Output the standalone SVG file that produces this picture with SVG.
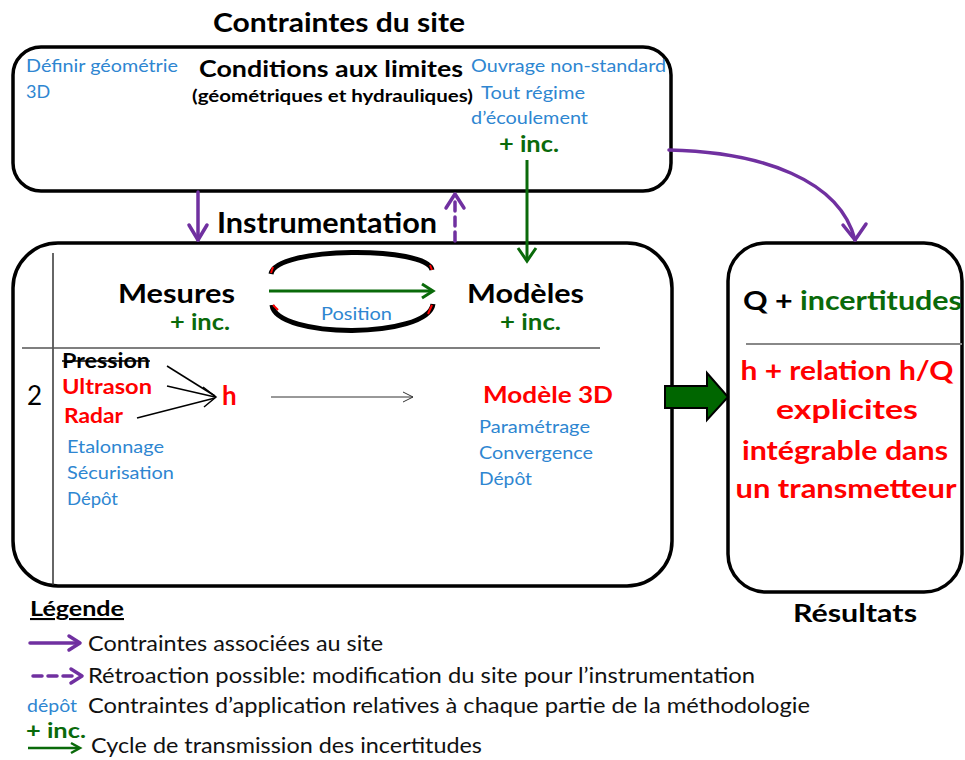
<svg xmlns="http://www.w3.org/2000/svg" width="965" height="760" viewBox="0 0 965 760">
<style>
text{font-family:Lato,"Open Sans","Liberation Sans",sans-serif;}
.b{font-weight:bold;}
.blue{fill:#2E86D1;font-size:18px;}
.grn{fill:#0A6A0A;font-weight:bold;}
.red{fill:#FF0000;font-weight:bold;}
.box{fill:#fff;stroke:#000;stroke-width:3.5;}
.pur{stroke:#7030A0;stroke-width:3.5;fill:none;stroke-linecap:round;stroke-linejoin:round;}
.leg{font-size:21px;fill:#111;}
</style>
<rect width="965" height="760" fill="#fff"/>
<text class="b" x="213" y="32" font-size="27" textLength="252" lengthAdjust="spacingAndGlyphs">Contraintes du site</text>

<g id="site">
<rect class="box" x="13" y="47" width="658" height="144" rx="28"/>
<text class="blue" x="26" y="72" textLength="152" lengthAdjust="spacingAndGlyphs">Définir géométrie</text>
<text class="blue" x="26" y="98">3D</text>
<text class="b" x="199" y="77" font-size="23" textLength="264" lengthAdjust="spacingAndGlyphs">Conditions aux limites</text>
<text class="b" x="192" y="102" font-size="17" textLength="281" lengthAdjust="spacingAndGlyphs">(géométriques et hydrauliques)</text>
<text class="blue" x="471" y="72" textLength="195" lengthAdjust="spacingAndGlyphs">Ouvrage non-standard</text>
<text class="blue" x="481" y="99" textLength="104" lengthAdjust="spacingAndGlyphs">Tout régime</text>
<text class="blue" x="471" y="124" textLength="117" lengthAdjust="spacingAndGlyphs">d’écoulement</text>
<text class="grn" x="499" y="152" font-size="23" textLength="60" lengthAdjust="spacingAndGlyphs">+ inc.</text>
</g>

<text class="b" x="217" y="233" font-size="28" textLength="220" lengthAdjust="spacingAndGlyphs">Instrumentation</text>

<g id="instrumentation">
<rect class="box" x="13" y="243" width="659" height="343" rx="45"/>
<line x1="53" y1="253" x2="53" y2="585" stroke="#333" stroke-width="1.5"/>
<line x1="22" y1="348" x2="600" y2="348" stroke="#555" stroke-width="1.5"/>
<text class="b" x="118" y="303" font-size="27" textLength="117" lengthAdjust="spacingAndGlyphs">Mesures</text>
<text class="grn" x="170" y="330" font-size="23" textLength="60" lengthAdjust="spacingAndGlyphs">+ inc.</text>
<text class="b" x="467" y="303" font-size="27" textLength="117" lengthAdjust="spacingAndGlyphs">Modèles</text>
<text class="grn" x="500" y="330" font-size="23" textLength="61" lengthAdjust="spacingAndGlyphs">+ inc.</text>
<text class="blue" x="321" y="320" textLength="71" lengthAdjust="spacingAndGlyphs">Position</text>
<text x="27" y="405" font-size="26" fill="#000">2</text>
<text class="b" x="62" y="368" font-size="21" textLength="88" lengthAdjust="spacingAndGlyphs">Pression</text>
<line x1="62" y1="361" x2="150" y2="361" stroke="#000" stroke-width="1.5"/>
<text class="red" x="62" y="394" font-size="21" textLength="90" lengthAdjust="spacingAndGlyphs">Ultrason</text>
<text class="red" x="64" y="423" font-size="21" textLength="59" lengthAdjust="spacingAndGlyphs">Radar</text>
<text class="red" x="222" y="405" font-size="26">h</text>
<text class="blue" x="67" y="453" textLength="97" lengthAdjust="spacingAndGlyphs">Etalonnage</text>
<text class="blue" x="67" y="479" textLength="107" lengthAdjust="spacingAndGlyphs">Sécurisation</text>
<text class="blue" x="67" y="505" textLength="51" lengthAdjust="spacingAndGlyphs">Dépôt</text>
<text class="red" x="483" y="403" font-size="23" textLength="130" lengthAdjust="spacingAndGlyphs">Modèle 3D</text>
<text class="blue" x="479" y="433" textLength="111" lengthAdjust="spacingAndGlyphs">Paramétrage</text>
<text class="blue" x="479" y="459" textLength="114" lengthAdjust="spacingAndGlyphs">Convergence</text>
<text class="blue" x="479" y="485" textLength="53" lengthAdjust="spacingAndGlyphs">Dépôt</text>
</g>

<g id="resultats">
<rect class="box" x="728" y="243" width="234" height="349" rx="38"/>
<text class="b" x="743" y="310" font-size="27" textLength="219" lengthAdjust="spacingAndGlyphs"><tspan fill="#000">Q + </tspan><tspan fill="#0A6A0A">incertitudes</tspan></text>
<line x1="746" y1="344" x2="962" y2="344" stroke="#888" stroke-width="2"/>
<g class="red" font-size="27" text-anchor="middle">
<text x="847" y="380" textLength="213" lengthAdjust="spacingAndGlyphs">h + relation h/Q</text>
<text x="847" y="419" textLength="142" lengthAdjust="spacingAndGlyphs">explicites</text>
<text x="845" y="460" textLength="206" lengthAdjust="spacingAndGlyphs">intégrable dans</text>
<text x="846" y="498" textLength="221" lengthAdjust="spacingAndGlyphs">un transmetteur</text>
</g>
<text class="b" x="855" y="622" font-size="24" text-anchor="middle" textLength="124" lengthAdjust="spacingAndGlyphs">Résultats</text>
</g>

<g id="connectors">
<line class="pur" x1="198" y1="192" x2="198" y2="240"/>
<polyline class="pur" points="189,225 198,240 207,225"/>
<line class="pur" x1="455" y1="241" x2="455" y2="196" stroke-dasharray="9,6"/>
<polyline class="pur" points="446,208 455,194 464,208"/>
<path class="pur" d="M669,150 C762,152 840,180 855,240"/>
<polyline class="pur" points="843,225 855,240 866,224"/>
<line x1="527" y1="160" x2="527" y2="260" stroke="#0A6A0A" stroke-width="3"/>
<polyline points="518,248 527,261 536,248" fill="none" stroke="#0A6A0A" stroke-width="3"/>
<line x1="269" y1="291" x2="432" y2="291" stroke="#0A6A0A" stroke-width="3"/>
<polyline points="422,284 433,291 422,298" fill="none" stroke="#0A6A0A" stroke-width="3"/>
<path d="M271,274 C276,246 427,246 432,270" fill="none" stroke="#000" stroke-width="5"/>
<path d="M272,305 C276,339 428,339 433,304" fill="none" stroke="#000" stroke-width="5"/>
<g stroke="#FF0000" stroke-width="2" fill="none">
<path d="M271,273 L273,267"/>
<path d="M430,265 L432,270"/>
<path d="M273,305 L278,310"/>
<path d="M432,305 L428,314"/>
</g>
<g stroke="#000" stroke-width="1.5" fill="none">
<line x1="167" y1="366" x2="215" y2="396"/>
<line x1="167" y1="386" x2="215" y2="397"/>
<line x1="137" y1="418" x2="215" y2="398"/>
<polyline points="203,387 216,397 204,407"/>
</g>
<g stroke="#333" stroke-width="1" fill="none">
<line x1="271" y1="397" x2="413" y2="397"/>
<polyline points="403,392 413,397 403,402"/>
</g>
<polygon points="665,386 707,386 707,373 728,397 707,420 707,408 665,408" fill="#006600" stroke="#000" stroke-width="2"/>
</g>

<g id="legende">
<text class="b" x="30" y="616" font-size="21" textLength="94" lengthAdjust="spacingAndGlyphs" text-decoration="underline">Légende</text>
<line class="pur" x1="30" y1="643" x2="78" y2="643"/>
<polyline class="pur" points="69,636 80,643 69,650"/>
<text class="leg" x="88" y="651" textLength="295" lengthAdjust="spacingAndGlyphs">Contraintes associées au site</text>
<line class="pur" x1="33" y1="676" x2="76" y2="676" stroke-dasharray="9,6"/>
<polyline class="pur" points="71,669 82,676 71,683"/>
<text class="leg" x="88" y="683" textLength="667" lengthAdjust="spacingAndGlyphs">Rétroaction possible: modification du site pour l’instrumentation</text>
<text x="27" y="712" font-size="17" fill="#2E86D1" textLength="50" lengthAdjust="spacingAndGlyphs">dépôt</text>
<text class="leg" x="88" y="713" textLength="722" lengthAdjust="spacingAndGlyphs">Contraintes d’application relatives à chaque partie de la méthodologie</text>
<text class="grn" x="26" y="738" font-size="21" textLength="60" lengthAdjust="spacingAndGlyphs">+ inc.</text>
<line x1="28" y1="748" x2="78" y2="748" stroke="#0A6A0A" stroke-width="2.5"/>
<polyline points="71,743 80,748 71,753" fill="none" stroke="#0A6A0A" stroke-width="2.5"/>
<text class="leg" x="91" y="753" textLength="391" lengthAdjust="spacingAndGlyphs">Cycle de transmission des incertitudes</text>
</g>
</svg>
